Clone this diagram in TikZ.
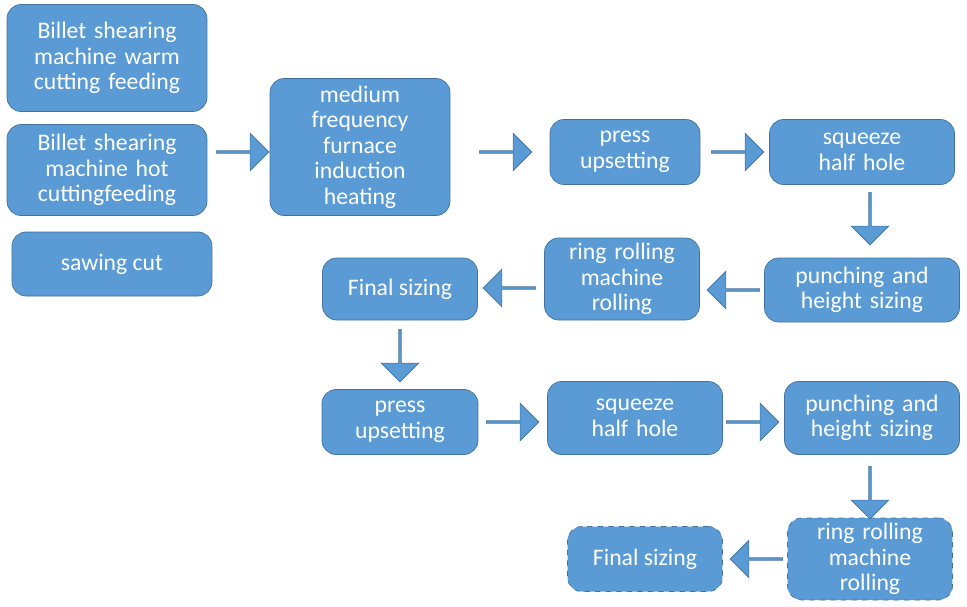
\documentclass[tikz,border=0pt]{standalone}
\usepackage{fontspec}
\setmainfont{Carlito}
\usetikzlibrary{shapes.arrows}
\definecolor{boxblue}{HTML}{5B9BD5}
\definecolor{boxedge}{HTML}{41719C}
\begin{document}
\begin{tikzpicture}[x=0.02cm,y=-0.02cm]
\tikzstyle{flowbox} = [rectangle, rounded corners=8pt, draw=boxedge, fill=boxblue, text=white, align=center, inner sep=1pt, font=\fontsize{13.5}{14.5}\selectfont]
\tikzstyle{flowdash} = [flowbox, dashed]
\tikzstyle{blk} = [single arrow, draw=boxedge, fill=boxblue, minimum height=1.05cm, minimum width=0.75cm, single arrow head extend=0.1cm, inner sep=0pt]
\useasboundingbox (0,0) rectangle (967,606);

% feeding options
\node[flowbox, minimum width=4cm, minimum height=2.14cm, text width=3.8cm] (warm) at (107,58) {Billet shearing machine warm cutting feeding};
\node[flowbox, minimum width=4cm, minimum height=1.82cm, text width=3.8cm] (hot) at (107,170) {Billet shearing machine hot cuttingfeeding};
\node[flowbox, minimum width=4cm, minimum height=1.28cm] (saw) at (112,264) {sawing cut};
\node[flowbox, minimum width=3.6cm, minimum height=2.74cm, text width=3cm] (furnace) at (360,147) {medium frequency furnace induction heating};

% first pass
\node[flowbox, minimum width=3cm, minimum height=1.3cm, text width=2.6cm] (press) at (625,152) {press upsetting};
\node[flowbox, minimum width=3.7cm, minimum height=1.3cm, text width=3.3cm] (squeeze) at (862,152) {squeeze half hole};
\node[flowbox, minimum width=3.9cm, minimum height=1.28cm, text width=3.7cm] (punch) at (862,290) {punching and height sizing};
\node[flowbox, minimum width=3.1cm, minimum height=1.64cm, text width=2.7cm] (ring) at (622,279) {ring rolling machine rolling};
\node[flowbox, minimum width=3.1cm, minimum height=1.24cm] (final) at (400,289) {Final sizing};

% second pass
\node[flowbox, minimum width=3.12cm, minimum height=1.3cm, text width=2.6cm] (pressB) at (400,422) {press upsetting};
\node[flowbox, minimum width=3.5cm, minimum height=1.46cm, text width=3.2cm] (squeezeB) at (635,418) {squeeze half hole};
\node[flowbox, minimum width=3.5cm, minimum height=1.46cm, text width=3cm] (punchB) at (872,418) {punching and height sizing};
\node[flowdash, minimum width=3.3cm, minimum height=1.64cm, text width=2.9cm] (ringB) at (870,559) {ring rolling machine rolling};
\node[flowdash, minimum width=3.1cm, minimum height=1.3cm] (finalB) at (645,559) {Final sizing};

% block arrows
\node[blk] (a1) at (242,152) {};
\node[blk] (a2) at (505,152) {};
\node[blk] (a3) at (737,152) {};
\node[blk, rotate=-90] (a4) at (870,218) {};
\node[blk, rotate=180] (a5) at (734,290) {};
\node[blk, rotate=180] (a6) at (510,288) {};
\node[blk, rotate=-90] (a7) at (400,355) {};
\node[blk] (a8) at (512,422) {};
\node[blk] (a9) at (752,422) {};
\node[blk, rotate=-90] (a10) at (870,492) {};
\node[blk, rotate=180] (a11) at (757,559) {};
\end{tikzpicture}
\end{document}
